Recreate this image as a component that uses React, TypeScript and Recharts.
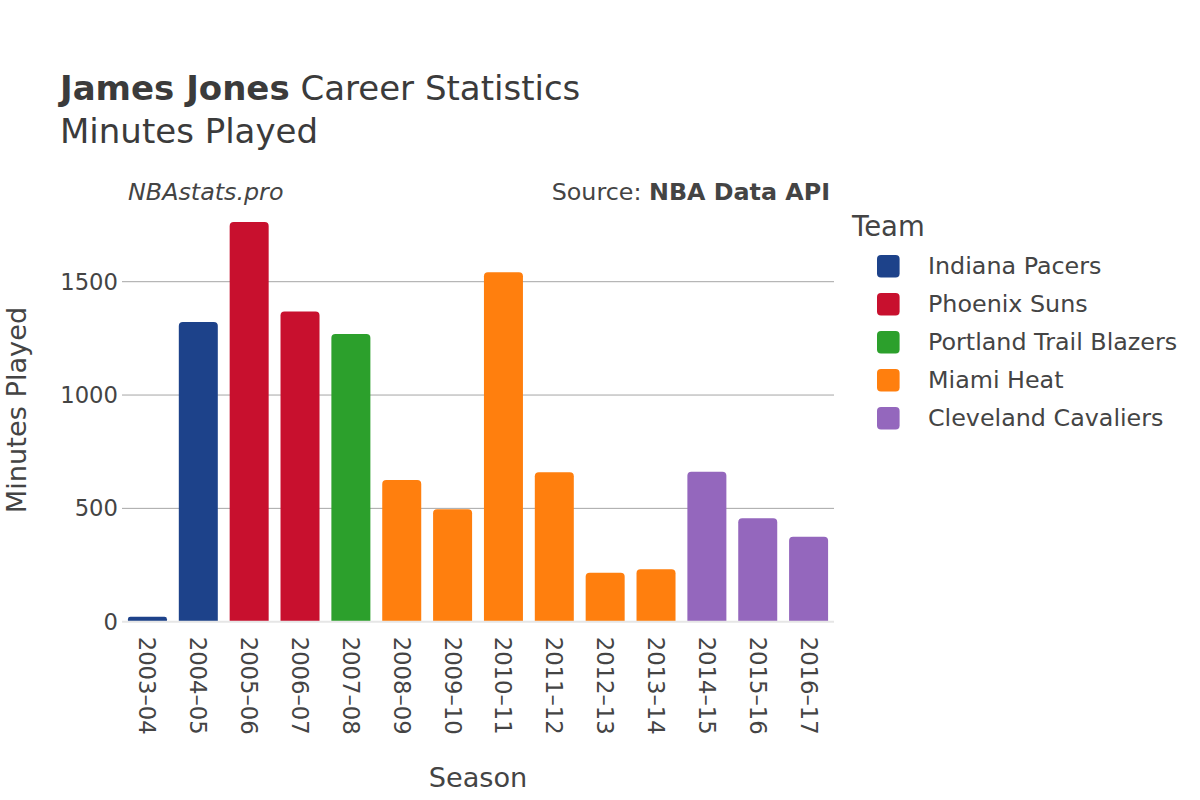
import React from 'react';
import { BarChart, Bar, XAxis, YAxis, CartesianGrid, Cell } from 'recharts';

const seasons = [
  '2003–04', '2004–05', '2005–06', '2006–07', '2007–08', '2008–09', '2009–10',
  '2010–11', '2011–12', '2012–13', '2013–14', '2014–15', '2015–16', '2016–17',
];
const minutesPlayed = [22, 1322, 1763, 1369, 1269, 625, 496, 1542, 659, 216, 231, 662, 456, 375];
const seasonTeams = [
  'Indiana Pacers', 'Indiana Pacers', 'Phoenix Suns', 'Phoenix Suns', 'Portland Trail Blazers',
  'Miami Heat', 'Miami Heat', 'Miami Heat', 'Miami Heat', 'Miami Heat', 'Miami Heat',
  'Cleveland Cavaliers', 'Cleveland Cavaliers', 'Cleveland Cavaliers',
];
const teamNames = ['Indiana Pacers', 'Phoenix Suns', 'Portland Trail Blazers', 'Miami Heat', 'Cleveland Cavaliers'];
const teamColors = ['#1d428a', '#c8102e', '#2ca02c', '#ff7f0e', '#9467bd'];
const yTicks = [0, 500, 1000, 1500];
const gridValues = [500, 1000, 1500];

const data = seasons.map((season, i) => ({ season, minutes: minutesPlayed[i], team: seasonTeams[i] }));
const colorOf = (team: string) => teamColors[teamNames.indexOf(team)];

const FONT = '"DejaVu Sans", sans-serif';
const TEXT = '#444';

const SeasonTick = (props: any) => {
  const { x, y, payload } = props;
  return (
    <text
      x={x}
      y={y}
      transform={`rotate(90 ${x} ${y})`}
      textAnchor="start"
      dominantBaseline="central"
      fontFamily={FONT}
      fontSize={22.7}
      fill={TEXT}
    >
      {payload.value}
    </text>
  );
};

export default function App() {
  return (
    <div style={{ position: 'absolute', left: 0, top: 0, width: 1200, height: 800, background: '#fff' }}>
      <div style={{ position: 'absolute', left: 0, top: 0 }}>
        <BarChart
          width={1200}
          height={800}
          data={data}
          margin={{ top: 213.7, right: 366, bottom: 0, left: 0 }}
          barCategoryGap="11.7%"
        >
          <CartesianGrid vertical={false} horizontalValues={gridValues} stroke="#a6a6a6" strokeWidth={1} />
          <XAxis
            dataKey="season"
            axisLine={{ stroke: '#e6e6e6', strokeWidth: 2 }}
            tickLine={false}
            tickSize={0}
            tickMargin={15}
            interval={0}
            tick={<SeasonTick />}
            height={178.3}
          />
          <YAxis
            width={122}
            domain={[0, 1800]}
            ticks={yTicks}
            axisLine={false}
            tickLine={false}
            tickSize={2}
            tickMargin={2}
            tick={{ fontFamily: FONT, fontSize: 22.7, fill: TEXT }}
          />
          <Bar dataKey="minutes" isAnimationActive={false} radius={[4, 4, 0, 0]}>
            {data.map((d, i) => (
              <Cell key={i} fill={colorOf(d.team)} />
            ))}
          </Bar>
        </BarChart>
      </div>
      <svg
        width={1200}
        height={800}
        style={{ position: 'absolute', left: 0, top: 0, pointerEvents: 'none' }}
        fontFamily={FONT}
      >
        <text x={60} y={100} fontSize={34} fill="#3b3b3b">
          <tspan fontWeight="bold">James Jones</tspan> Career Statistics
        </text>
        <text x={60} y={143} fontSize={34} fill="#3b3b3b">Minutes Played</text>
        <text x={128} y={200} fontSize={23.8} fontStyle="italic" fill={TEXT}>NBAstats.pro</text>
        <text x={830} y={200} fontSize={23.8} textAnchor="end" fill={TEXT}>
          Source: <tspan fontWeight="bold">NBA Data API</tspan>
        </text>
        <text
          x={26}
          y={410}
          fontSize={27.2}
          textAnchor="middle"
          transform="rotate(-90 26 410)"
          fill={TEXT}
        >
          Minutes Played
        </text>
        <text x={478} y={787} fontSize={27.2} textAnchor="middle" fill={TEXT}>Season</text>
        <text x={852} y={236} fontSize={27.5} fill={TEXT}>Team</text>
        {teamNames.map((name, i) => (
          <g key={name}>
            <rect x={877} y={255 + i * 38} width={22.6} height={22.6} rx={4} fill={teamColors[i]} />
            <text x={928} y={274 + i * 38} fontSize={23.8} fill={TEXT}>{name}</text>
          </g>
        ))}
      </svg>
    </div>
  );
}
